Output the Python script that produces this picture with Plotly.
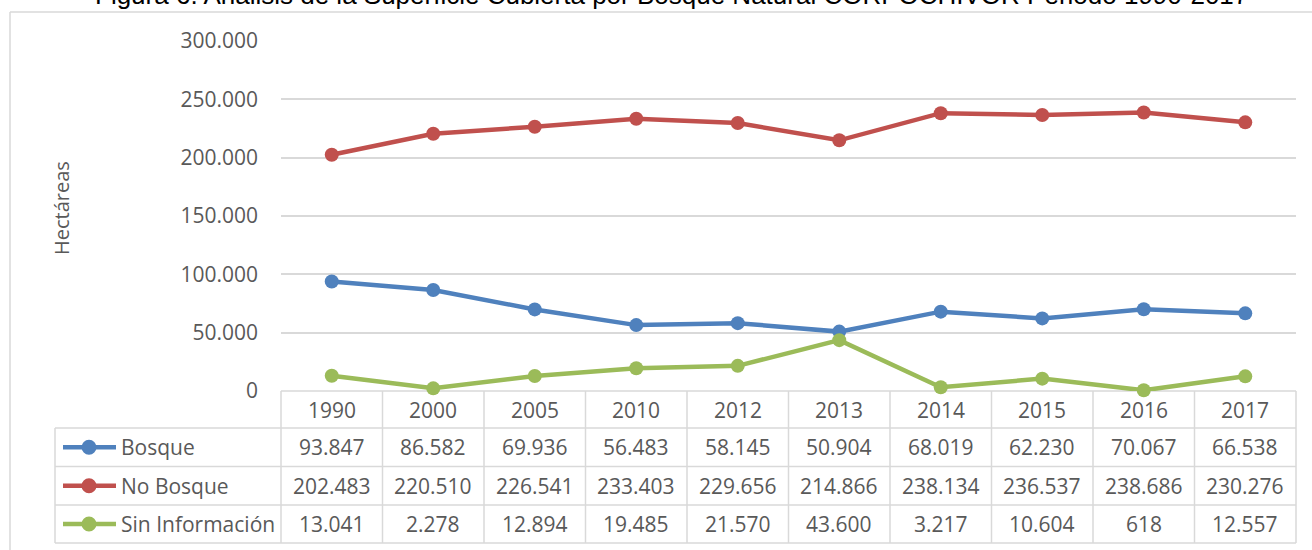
import plotly.graph_objects as go

W, H = 1312, 550

years = ["1990", "2000", "2005", "2010", "2012", "2013", "2014", "2015", "2016", "2017"]
bosque = [93847, 86582, 69936, 56483, 58145, 50904, 68019, 62230, 70067, 66538]
no_bosque = [202483, 220510, 226541, 233403, 229656, 214866, 238134, 236537, 238686, 230276]
sin_info = [13041, 2278, 12894, 19485, 21570, 43600, 3217, 10604, 618, 12557]

series_names = ["Bosque", "No Bosque", "Sin Información"]
series_values = [bosque, no_bosque, sin_info]
series_colors = ["#4F81BD", "#C0504D", "#9BBB59"]

title_text = "Figura 6. Análisis de la Superficie Cubierta por Bosque Natural CORPOCHIVOR Periodo 1990-2017"
y_title = "Hectáreas"

TXT = "#595959"
GRID = "#D9D9D9"
FONT = "Open Sans"
FS = 21


def px(x):
    return x / W


def py(y):
    return 1 - y / H


def fmt(v):
    return f"{v:,}".replace(",", ".")


# layout geometry (pixels)
X0, X1 = 281, 1296
Y_TOP, Y_ZERO = 41, 391
ROWS = [391, 428, 466.5, 505, 543]
LEG_X0 = 55

fig = go.Figure()
for name, vals, col in zip(series_names, series_values, series_colors):
    fig.add_trace(go.Scatter(
        x=years, y=vals, name=name, mode="lines+markers",
        line=dict(color=col, width=4.5),
        marker=dict(color=col, size=14),
        cliponaxis=False, showlegend=False,
    ))

shapes = []
annotations = []
ncol = len(years)
colw = (X1 - X0) / ncol

# chart area border
shapes.append(dict(type="line", xref="paper", yref="paper", x0=px(10), x1=1.01,
                   y0=py(12), y1=py(12), line=dict(color=GRID, width=1.5), layer="below"))
shapes.append(dict(type="line", xref="paper", yref="paper", x0=px(10), x1=px(10),
                   y0=py(12), y1=-0.01, line=dict(color=GRID, width=1.5), layer="below"))

# table horizontal lines
shapes.append(dict(type="line", xref="paper", yref="paper", x0=px(X0), x1=px(X1),
                   y0=py(ROWS[0]), y1=py(ROWS[0]), line=dict(color=GRID, width=1.5), layer="below"))
for r in ROWS[1:]:
    shapes.append(dict(type="line", xref="paper", yref="paper", x0=px(LEG_X0), x1=px(X1),
                       y0=py(r), y1=py(r), line=dict(color=GRID, width=1.5), layer="below"))
# vertical lines
for i in range(ncol + 1):
    xx = X0 + i * colw
    shapes.append(dict(type="line", xref="paper", yref="paper", x0=px(xx), x1=px(xx),
                       y0=py(ROWS[0]), y1=py(ROWS[-1]), line=dict(color=GRID, width=1.5), layer="below"))
shapes.append(dict(type="line", xref="paper", yref="paper", x0=px(LEG_X0), x1=px(LEG_X0),
                   y0=py(ROWS[1]), y1=py(ROWS[-1]), line=dict(color=GRID, width=1.5), layer="below"))

# header years (category index positions on the x axis)
hy = (ROWS[0] + ROWS[1]) / 2
for i, yr in enumerate(years):
    annotations.append(dict(x=i, xref="x", y=py(hy), yref="paper", text=yr, showarrow=False,
                            font=dict(family=FONT, size=FS, color=TXT), xanchor="center", yanchor="middle"))

# rows
for k, (name, vals, col) in enumerate(zip(series_names, series_values, series_colors)):
    cy = (ROWS[k + 1] + ROWS[k + 2]) / 2
    for i, v in enumerate(vals):
        annotations.append(dict(x=i, xref="x", y=py(cy), yref="paper", text=fmt(v), showarrow=False,
                                font=dict(family=FONT, size=FS, color=TXT), xanchor="center", yanchor="middle"))
    # legend key
    shapes.append(dict(type="line", xref="paper", yref="paper", x0=px(63), x1=px(116),
                       y0=py(cy), y1=py(cy), line=dict(color=col, width=4.5)))
    r = 7.5
    shapes.append(dict(type="circle", xref="paper", yref="paper", x0=px(89 - r), x1=px(89 + r),
                       y0=py(cy + r), y1=py(cy - r), fillcolor=col, line=dict(color=col, width=0)))
    annotations.append(dict(x=px(119), xref="paper", y=py(cy), yref="paper", text=name, showarrow=False,
                            font=dict(family=FONT, size=FS, color=TXT), xanchor="left", yanchor="middle"))

# y-axis title
annotations.append(dict(x=px(61), xref="paper", y=py(208), yref="paper", text=y_title, showarrow=False,
                        textangle=-90, font=dict(family=FONT, size=20, color=TXT),
                        xanchor="center", yanchor="middle"))

# title (cropped at top like the reference)
annotations.append(dict(x=px(671), xref="paper", y=py(12), yref="paper", text=title_text, showarrow=False,
                        font=dict(family="Liberation Sans Narrow, Arial Narrow, Liberation Sans", size=26,
                                  color="#000000"),
                        xanchor="center", yanchor="bottom"))

fig.update_layout(
    width=W, height=H,
    margin=dict(l=0, r=0, t=0, b=0, pad=0),
    paper_bgcolor="white", plot_bgcolor="white",
    separators=",.",
    shapes=shapes, annotations=annotations,
    xaxis=dict(type="category", domain=[px(X0), px(X1)], range=[-0.5, ncol - 0.5],
               showticklabels=False, showgrid=False, zeroline=False, showline=False, ticks="",
               automargin=False),
    yaxis=dict(domain=[py(Y_ZERO), py(Y_TOP)], range=[0, 300000], dtick=50000,
               tickformat=",d", showgrid=True, gridcolor=GRID, gridwidth=1.5,
               zeroline=False, showline=False, ticks="", ticklabelstandoff=22,
               tickfont=dict(family=FONT, size=FS, color=TXT), automargin=False),
    showlegend=False,
)

fig.write_html("out.html", config={"displayModeBar": False},
               post_script="document.body.style.margin='0';")
